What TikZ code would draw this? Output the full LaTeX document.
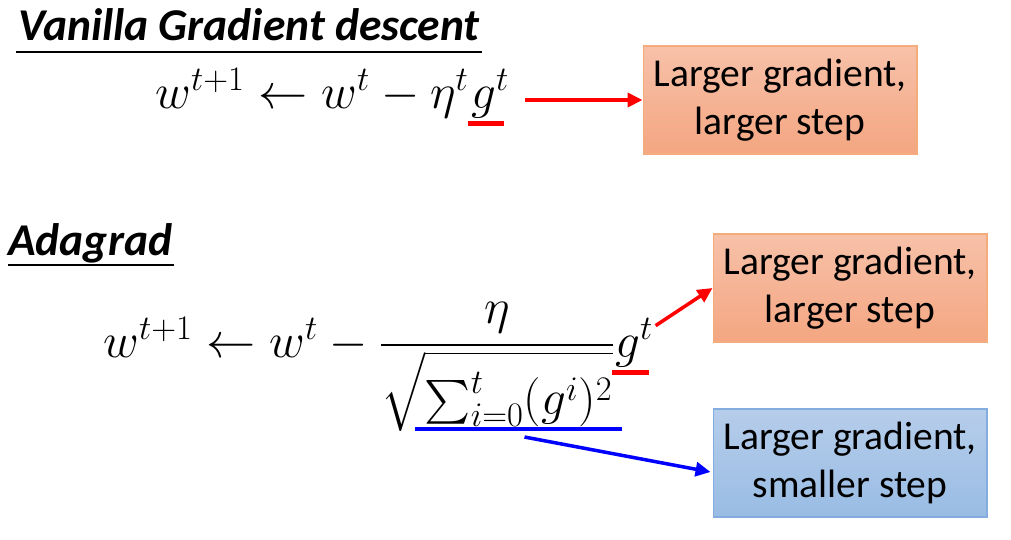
\RequirePackage{fix-cm}
\documentclass[tikz,border=0pt]{standalone}
\usepackage{amsmath}
\usepackage[no-math]{fontspec}
\setmainfont{Carlito}
\usepackage{tikz}
\usetikzlibrary{calc, positioning, arrows.meta}
\usepackage{xcolor}
\definecolor{hotred}{RGB}{255, 0, 0}
\definecolor{hotblue}{RGB}{0, 0, 255}
\definecolor{peachTop}{RGB}{247, 193, 169}
\definecolor{peachBot}{RGB}{244, 166, 129}
\definecolor{peachEdge}{RGB}{245, 172, 125}
\definecolor{skyTop}{RGB}{182, 205, 234}
\definecolor{skyBot}{RGB}{153, 188, 228}
\definecolor{skyEdge}{RGB}{132, 172, 222}

\tikzset{
  heading/.style={font=\fontsize{25.9}{30}\selectfont\bfseries\itshape, inner sep=0pt, anchor=base west},
  formula/.style={font=\fontsize{28}{34}\selectfont, inner sep=0pt},
  note/.style={draw, line width=0.6pt, minimum width=5.48cm, minimum height=2.16cm,
    align=center, font=\fontsize{22.5}{27}\selectfont},
  peachnote/.style={note, draw=peachEdge, top color=peachTop, bottom color=peachBot},
  skynote/.style={note, draw=skyEdge, top color=skyTop, bottom color=skyBot},
  bar/.style={line width=2.8pt},
  ptr/.style={line width=2pt, -{Triangle[length=8.5pt, width=8pt]}},
}

\begin{document}
\begin{tikzpicture}[x=0.02cm, y=-0.02cm]
  \useasboundingbox (0,0) rectangle (1011,539);

  % vanilla gradient descent
  \node[heading] (vgd) at (18,40) {Vanilla Gradient descent};
  \draw[line width=1.2pt] ($(vgd.base west)+(-2,12)$) -- ($(vgd.base east)+(2,12)$);
  \node[formula, anchor=base west] (upd1) at (155,108) {$w^{t+1} \leftarrow w^t - \eta^t$};
  \node[formula, base right=1pt of upd1] (g1) {$g^t$};
  \draw[bar, hotred] ($(g1.south west)+(-3,6)$) -- ($(g1.south east)+(-5,6)$);
  \node[peachnote] (box1) at (780,100) {Larger gradient,\\larger step};
  \draw[ptr, hotred] ($(g1.east |- box1.west)+(16,0)$) -- (box1.west);

  % adagrad
  \node[heading] (ada) at (8,255) {Adagrad};
  \draw[line width=1.2pt] ($(ada.base west)+(0,10)$) -- ($(ada.base east)+(2,10)$);
  \node[formula, anchor=base west] (upd2) at (103,357) {$w^{t+1} \leftarrow w^t - {}$};
  \node[formula, base right=0pt of upd2] (frac)
    {$\dfrac{\eta}{\sqrt{\sum_{i=0}^{t}(g^i)^2\rule[-0.3em]{0pt}{1.45em}}}$};
  \node[formula, base right=0pt of frac] (g2) {$g^t$};
  \draw[bar, hotred] ($(g2.south west)+(-3,6)$) -- ($(g2.south east)+(-5,6)$);
  \coordinate (barL) at ($(frac.base west)+(36,72)$);
  \coordinate (barR) at ($(frac.base east)+(7,72)$);
  \draw[bar, hotblue] (barL) -- (barR);
  \coordinate (tail3) at ($(barL)!0.53!(barR)+(0,8)$);

  \node[peachnote] (box2) at (850,288) {Larger gradient,\\larger step};
  \node[skynote] (box3) at (850,463) {Larger gradient,\\smaller step};
  \draw[ptr, hotred] ($(g2.north east)+(2,8)$) -- (box2.west);
  \draw[ptr, hotblue] (tail3) -- ($(box3.west)+(-2,9)$);
\end{tikzpicture}
\end{document}
